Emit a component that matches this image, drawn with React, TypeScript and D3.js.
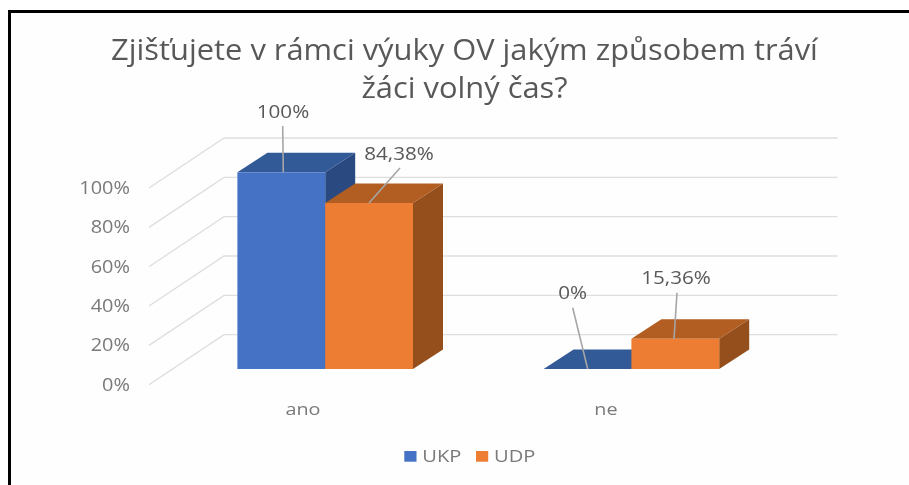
import React from "react";
import * as d3 from "d3";

const categories = ["ano", "ne"];
const seriesNames = ["UKP", "UDP"];
const ukpValues = [100, 0];
const udpValues = [84.38, 15.36];
const ukpLabels = ["100%", "0%"];
const udpLabels = ["84,38%", "15,36%"];
const yTicks = [0, 20, 40, 60, 80, 100];
const titleLines = ["Zjišťujete v rámci výuky OV jakým způsobem tráví", "žáci volný čas?"];

const FONT = "'Open Sans', sans-serif";
const W = 909, H = 485;
const DX = 30, DY = 19.6;

const y = d3.scaleLinear().domain([0, 100]).range([369, 172.3]);
const x0 = d3.scaleBand().domain(categories).range([172.1, 784.5]);
const x1 = d3.scaleBand().domain(seriesNames).range([0, 175.6]);
const labelX = d3.scaleBand().domain(categories).range([151.5, 757.5]);

const palette = [
  { front: "#4472C4", top: "#335A97", side: "#2B4A80" },
  { front: "#ED7D31", top: "#B25D20", side: "#95501C" },
];
const seriesValues = [ukpValues, udpValues];
const seriesLabels = [ukpLabels, udpLabels];
const labelPos = [
  [{ lx: 283, ly: 112, x1: 282.7, y1: 126, x2: 283.3, y2: 172 }, { lx: 572.7, ly: 293, x1: 572.7, y1: 307.7, x2: 587.7, y2: 369 }],
  [{ lx: 399, ly: 154, x1: 400, y1: 168, x2: 369, y2: 203 }, { lx: 676, ly: 278, x1: 677, y1: 292.7, x2: 674, y2: 339 }],
];

const line = d3.line();
const poly = (pts: [number, number][]) => line(pts) + "Z";

function Stretched(props: { x: number; y: number; sx: number; anchor?: string; size: number; fill: string; children: React.ReactNode }) {
  return (
    <text
      transform={`translate(${props.x},${props.y}) scale(${props.sx},1)`}
      textAnchor={props.anchor ?? "start"}
      fontFamily={FONT}
      fontSize={props.size}
      fill={props.fill}
    >
      {props.children}
    </text>
  );
}

export default function App() {
  const gridBack = (v: number) => y(v) - 34.3;
  return (
    <svg width={W} height={H} viewBox={`0 0 ${W} ${H}`} style={{ position: "fixed", left: 0, top: 0, background: "#fff" }}>
      <defs>
        <filter id="soft" x="-5%" y="-5%" width="110%" height="110%">
          <feGaussianBlur stdDeviation="0.45" />
        </filter>
      </defs>
      <rect x={9.5} y={11.5} width={W + 10} height={H + 10} fill="#fefefe" stroke="#000" strokeWidth={3} />
      <g filter="url(#soft)">
        {titleLines.map((t, i) => (
          <Stretched key={i} x={464.5} y={i === 0 ? 60 : 98} sx={1.083} anchor="middle" size={28.5} fill="#595959">{t}</Stretched>
        ))}
        {yTicks.map((t) => (
          <g key={t}>
            <path
              d={line([[149, gridBack(t) + 50], [224, gridBack(t)], [837.6, gridBack(t)]]) as string}
              fill="none" stroke="#dedede" strokeWidth={1.3}
            />
            <Stretched x={130} y={gridBack(t) + 56} sx={1.14} anchor="end" size={17.5} fill="#7a7a7a">{t}%</Stretched>
          </g>
        ))}
        {categories.map((c, ci) =>
          seriesNames.map((s, si) => {
            const v = seriesValues[si][ci];
            const xl = (x0(c) as number) + x0.bandwidth() / 2 - 87.8 + (x1(s) as number);
            const xr = xl + x1.bandwidth();
            const yt = y(v), yb = y(0);
            const col = palette[si];
            return (
              <g key={c + s}>
                <path d={poly([[xr, yb], [xr + DX, yb - DY], [xr + DX, yt - DY], [xr, yt]])} fill={col.side} />
                <path d={poly([[xl, yt], [xl + DX, yt - DY], [xr + DX, yt - DY], [xr, yt]])} fill={col.top} />
                {v > 0 && <rect x={xl} y={yt} width={xr - xl} height={yb - yt} fill={col.front} />}
              </g>
            );
          })
        )}
        {categories.map((c, ci) =>
          seriesNames.map((s, si) => {
            const p = labelPos[si][ci];
            return (
              <g key={c + s}>
                <line x1={p.x1} y1={p.y1} x2={p.x2} y2={p.y2} stroke="#a6a6a6" strokeWidth={1.6} />
                <Stretched x={p.lx} y={p.ly + 6} sx={1.18} anchor="middle" size={17.5} fill="#595959">{seriesLabels[si][ci]}</Stretched>
              </g>
            );
          })
        )}
        {categories.map((c) => (
          <Stretched key={c} x={(labelX(c) as number) + labelX.bandwidth() / 2} y={415} sx={1.2} anchor="middle" size={16.5} fill="#7a7a7a">{c}</Stretched>
        ))}
        {seriesNames.map((s, i) => {
          const lx = [404.3, 476][i];
          return (
            <g key={s}>
              <rect x={lx} y={451} width={12.2} height={10.7} fill={palette[i].front} />
              <Stretched x={lx + 18} y={462} sx={1.22} size={16.5} fill="#7a7a7a">{s}</Stretched>
            </g>
          );
        })}
      </g>
    </svg>
  );
}
